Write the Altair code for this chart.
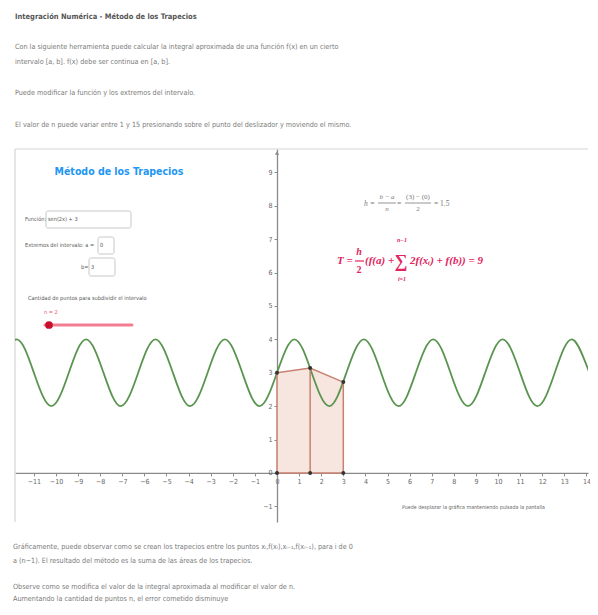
import altair as alt
import pandas as pd

# ---------------- data ----------------
curve_x = [-12.57, -11.78, -11.00, -10.21, -9.42, -8.64, -7.85, -7.07, -6.28,
           -5.50, -4.71, -3.93, -3.14, -2.36, -1.57, -0.79, 0.00, 0.79,
           1.57, 2.36, 3.14, 3.93, 4.71, 5.50, 6.28, 7.07, 7.85,
           8.64, 9.42, 10.21, 11.00, 11.78, 12.57, 13.35, 14.14, 14.92]
curve_y = [3, 4, 3, 2, 3, 4, 3, 2, 3,
           4, 3, 2, 3, 4, 3, 2, 3, 4,
           3, 2, 3, 4, 3, 2, 3, 4, 3,
           2, 3, 4, 3, 2, 3, 4, 3, 2]

node_x = [0.0, 1.5, 3.0]
node_f = [3.0, 3.14, 2.72]
base_f = [0.0, 0.0, 0.0]

x_ticks = [-11, -10, -9, -8, -7, -6, -5, -4, -3, -2, -1, 0, 1, 2, 3, 4, 5,
           6, 7, 8, 9, 10, 11, 12, 13, 14]
y_ticks = [-1, 0, 1, 2, 3, 4, 5, 6, 7, 8, 9]

page_title = "Integración Numérica - Método de los Trapecios"
intro_lines = [
    "Con la siguiente herramienta puede calcular la integral aproximada de una función f(x) en un cierto",
    "intervalo [a, b]. f(x) debe ser continua en [a, b].",
    "Puede modificar la función y los extremos del intervalo.",
    "El valor de n puede variar entre 1 y 15 presionando sobre el punto del deslizador y moviendo el mismo.",
]
outro_lines = [
    "Gráficamente, puede observar como se crean los trapecios entre los puntos xᵢ,f(xᵢ),xᵢ₋₁,f(xᵢ₋₁), para i de 0",
    "a (n−1). El resultado del método es la suma de las áreas de los trapecios.",
    "Observe como se modifica el valor de la integral aproximada al modificar el valor de n.",
    "Aumentando la cantidad de puntos n, el error cometido disminuye",
]
applet_title = "Método de los Trapecios"
func_label = "Función:"
func_value = "sen(2x) + 3"
interval_label = "Extremos del intervalo: a ="
a_value = "0"
b_label = "b="
b_value = "3"
slider_label = "Cantidad de puntos para subdividir el intervalo"
n_label = "n = 2"
drag_hint = "Puede desplazar la gráfica manteniendo pulsada la pantalla"

# ---------------- layout constants ----------------
W, H = 573, 373
PX_PER_X = 22.1
XMIN = -(277 - 15) / PX_PER_X
XMAX = XMIN + W / PX_PER_X
YMIN, YMAX = -1.47, 9.7
OX, OY = 15, 149  # page position of plot origin

BODY = "DejaVu Sans Condensed, Liberation Sans, sans-serif"
SERIF = "Liberation Serif, DejaVu Serif, serif"
GREY = "#7a7a7a"
WGREY = "#5a5a5a"
PINK = "#e0245e"

curve_df = pd.DataFrame({"x": curve_x, "y": curve_y})
node_df = pd.DataFrame({"x": node_x, "y": node_f})
base_df = pd.DataFrame({"x": node_x, "y": base_f})

x_off = -(0 - XMIN) / (XMAX - XMIN) * W
y_off = -(0 - YMIN) / (YMAX - YMIN) * H

AX = dict(title=None, grid=False, labelFontSize=7, labelColor="#666", labelFont=BODY,
          domainColor="#8a8a8a", domainWidth=1.3, tickColor="#8a8a8a",
          tickSize=3, labelPadding=2, labelFlush=False, labelOverlap=False)
X = alt.X("x:Q", scale=alt.Scale(domain=[XMIN, XMAX], nice=False, zero=False),
          axis=alt.Axis(values=x_ticks, offset=y_off, **AX))
Y = alt.Y("y:Q", scale=alt.Scale(domain=[YMIN, YMAX], nice=False, zero=False),
          axis=alt.Axis(values=y_ticks, offset=x_off, **AX))

EDGE = "#c98070"

area = alt.Chart(node_df).mark_area(color="#f5e3dc", opacity=0.9, clip=True).encode(
    x=X, y=Y, y2=alt.datum(0))
curve = alt.Chart(curve_df).mark_line(color="#5a9550", strokeWidth=1.8,
                                      interpolate="natural", clip=True).encode(x=X, y=Y)
top_edge = alt.Chart(node_df).mark_line(color=EDGE, strokeWidth=1.5).encode(x=X, y=Y)
verticals = alt.Chart(node_df).mark_rule(color=EDGE, strokeWidth=1.5).encode(
    x=X, y=Y, y2=alt.datum(0))
bottom_edge = alt.Chart(base_df).mark_line(color=EDGE, strokeWidth=1.5).encode(x=X, y=Y)
top_pts = alt.Chart(node_df).mark_circle(color="#333333", size=16, opacity=1).encode(x=X, y=Y)
bot_pts = alt.Chart(base_df).mark_circle(color="#333333", size=16, opacity=1).encode(x=X, y=Y)

ONE = alt.Data(values=[{}])


def txt(s, px, py, size=7.2, color=GREY, font=BODY, weight="normal", align="left",
        style="normal"):
    return alt.Chart(ONE).mark_text(
        text=s, fontSize=size, color=color, font=font, fontWeight=weight,
        align=align, baseline="middle", fontStyle=style
    ).encode(x=alt.value(px - OX), y=alt.value(py - OY))


def hrule(x1, x2, py, color, width=1.0, cap="butt"):
    return alt.Chart(ONE).mark_rule(color=color, strokeWidth=width, strokeCap=cap).encode(
        x=alt.value(x1 - OX), x2=alt.value(x2 - OX), y=alt.value(py - OY))


def vrule(px, y1, y2, color, width=1.0):
    return alt.Chart(ONE).mark_rule(color=color, strokeWidth=width).encode(
        x=alt.value(px - OX), y=alt.value(y1 - OY), y2=alt.value(y2 - OY))


def box(x1, y1, x2, y2):
    return alt.Chart(ONE).mark_rect(fill="white", stroke="#c8c8c8", strokeWidth=1,
                                    cornerRadius=2).encode(
        x=alt.value(x1 - OX), x2=alt.value(x2 - OX),
        y=alt.value(y1 - OY), y2=alt.value(y2 - OY))


# frame of the graphics view (top and left edges only)
layers = [hrule(15, 15 + W, 149, "#d6d6d6", 1.2), vrule(15, 149, 149 + H, "#d6d6d6", 1.2)]
layers += [area, curve, top_edge, verticals, bottom_edge, top_pts, bot_pts]

# y-axis arrow head
layers.append(alt.Chart(ONE).mark_point(shape="triangle-up", filled=True, color="#8a8a8a",
                                        size=18, opacity=1).encode(
    x=alt.value(277 - OX), y=alt.value(153 - OY)))

# page text above and below
layers.append(txt(page_title, 15, 17, size=7.5, color="#555555", weight="bold"))
for s, py in zip(intro_lines, [47, 62, 93, 125]):
    layers.append(txt(s, 15, py))
for s, py in zip(outro_lines, [547, 561, 587, 599]):
    layers.append(txt(s, 13, py))

# applet widgets
WS = 5.6
layers.append(txt(applet_title, 119, 172, size=10.5, color="#2196f3", weight="bold",
                  align="center"))
layers.append(box(46, 211, 131, 228))
layers.append(txt(func_label, 25, 219, size=WS, color=WGREY))
layers.append(txt(func_value, 48, 219, size=WS, color=WGREY))
layers.append(box(98, 237, 114, 254))
layers.append(txt(interval_label, 25, 245, size=WS, color=WGREY))
layers.append(txt(a_value, 100, 245, size=WS, color=WGREY))
layers.append(box(89, 258, 115, 276))
layers.append(txt(b_label, 81, 267, size=WS, color=WGREY))
layers.append(txt(b_value, 91, 267, size=WS, color=WGREY))
layers.append(txt(slider_label, 28, 298, size=WS, color=WGREY))
layers.append(txt(n_label, 44, 312, size=WS, color="#e8576f"))
layers.append(hrule(45, 132, 325, "#f27d90", width=3, cap="round"))
layers.append(alt.Chart(ONE).mark_circle(color="#c8102e", size=60, opacity=1).encode(
    x=alt.value(49 - OX), y=alt.value(325 - OY)))
layers.append(txt(drag_hint, 402, 507, size=5.3, color="#666"))

# h formula
layers.append(txt("h =", 364, 204, size=7.5, font=SERIF, style="italic"))
layers.append(txt("b − a", 387, 197, size=7, font=SERIF, style="italic", align="center"))
layers.append(hrule(378, 396, 203, GREY, 0.8))
layers.append(txt("n", 387, 209, size=7, font=SERIF, style="italic", align="center"))
layers.append(txt("=", 399, 204, size=7.5, font=SERIF, align="center"))
layers.append(txt("(3) − (0)", 418, 197, size=7, font=SERIF, align="center"))
layers.append(hrule(405, 431, 203, GREY, 0.8))
layers.append(txt("2", 418, 209, size=7, font=SERIF, align="center"))
layers.append(txt("= 1.5", 434, 204, size=7.5, font=SERIF))

# T formula
layers.append(txt("T =", 337, 261, size=11, color=PINK, font=SERIF, weight="bold",
                  style="italic"))
layers.append(txt("h", 359, 252, size=10, color=PINK, font=SERIF, weight="bold",
                  style="italic", align="center"))
layers.append(hrule(355, 364, 261, PINK, 1.2))
layers.append(txt("2", 359, 270, size=10, color=PINK, font=SERIF, weight="bold",
                  align="center"))
layers.append(txt("(f(a) +", 365, 261, size=11, color=PINK, font=SERIF, weight="bold",
                  style="italic"))
layers.append(txt("∑", 401, 262, size=18, color=PINK, font=SERIF, weight="bold",
                  align="center"))
layers.append(txt("n−1", 402, 240, size=6, color=PINK, font=SERIF, weight="bold",
                  style="italic", align="center"))
layers.append(txt("i=1", 402, 279, size=6, color=PINK, font=SERIF, weight="bold",
                  style="italic", align="center"))
layers.append(txt("2f(xᵢ) + f(b)) = 9", 410, 261, size=11, color=PINK, font=SERIF,
                  weight="bold", style="italic"))

chart = alt.layer(*layers).properties(
    width=W, height=H,
    background="white",
    padding={"left": 7, "top": 141, "right": 2, "bottom": 81},
    autosize=alt.AutoSizeParams(type="none"),
).configure_view(stroke="transparent", strokeWidth=0).configure_axis(
    labelOverlap=False
)

chart.save("out.html", embed_options={"renderer": "svg", "actions": False})
